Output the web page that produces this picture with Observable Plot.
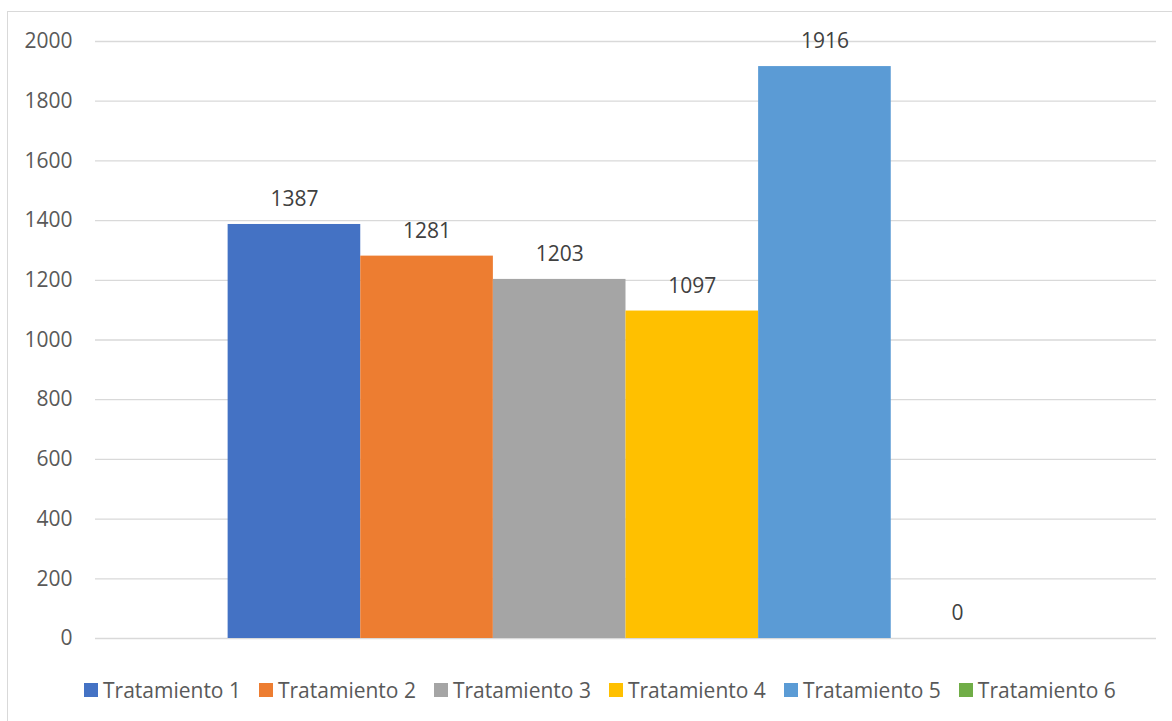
<!DOCTYPE html>
<html>
<head>
<meta charset="utf-8">
<script src="https://cdn.jsdelivr.net/npm/d3@7"></script>
<script src="https://cdn.jsdelivr.net/npm/@observablehq/plot@0.6"></script>
<style>
  html, body { margin: 0; padding: 0; background: #fff; }
  #wrap { position: relative; width: 1172px; height: 721px; overflow: hidden; font-family: "Open Sans", sans-serif; }
  #border { position: absolute; left: 7px; top: 11px; width: 1180px; height: 730px; border: 1px solid #d9d9d9; box-sizing: border-box; }
  #chart { position: absolute; left: 0; top: 0; }
  #legend { position: absolute; left: 84px; top: 676px; height: 28px; display: flex; align-items: center; gap: 18px; font-size: 21px; color: #595959; white-space: nowrap; }
  .item { display: flex; align-items: center; }
  .sw { width: 14px; height: 14px; margin-right: 5px; }
</style>
</head>
<body>
<div id="wrap">
  <div id="border"></div>
  <div id="chart"></div>
  <div id="legend"></div>
</div>
<script>
const series = ["Tratamiento 1", "Tratamiento 2", "Tratamiento 3", "Tratamiento 4", "Tratamiento 5", "Tratamiento 6"];
const values = [1387, 1281, 1203, 1097, 1916, 0];
const colors = ["#4472C4", "#ED7D31", "#A5A5A5", "#FFC000", "#5B9BD5", "#70AD47"];
const yTicks = [0, 200, 400, 600, 800, 1000, 1200, 1400, 1600, 1800, 2000];

const data = series.map((s, i) => ({ series: s, value: values[i] }));

const chart = Plot.plot({
  width: 1172,
  height: 660,
  marginTop: 41,
  marginBottom: 22,
  marginLeft: 95,
  marginRight: 16,
  style: { fontFamily: "Open Sans, sans-serif", fontSize: "21px", color: "#595959", background: "transparent" },
  x: { domain: series, paddingInner: 0, paddingOuter: 1, round: false, axis: null },
  y: { domain: [0, 2000], ticks: yTicks, tickSize: 0, tickPadding: 23, label: null, tickFormat: d => String(d) },
  color: { domain: series, range: colors },
  marks: [
    Plot.ruleY(yTicks, { stroke: "#d9d9d9", strokeWidth: 1.3 }),
    Plot.barY(data, { x: "series", y: "value", fill: "series" }),
    Plot.text(data, { x: "series", y: "value", text: d => String(d.value), dy: -25, fill: "#404040", fontSize: 21 })
  ]
});
document.getElementById("chart").appendChild(chart);

const legend = document.getElementById("legend");
series.forEach((s, i) => {
  const it = document.createElement("div");
  it.className = "item";
  const sw = document.createElement("span");
  sw.className = "sw";
  sw.style.background = colors[i];
  const t = document.createElement("span");
  t.textContent = s;
  it.appendChild(sw);
  it.appendChild(t);
  legend.appendChild(it);
});
</script>
</body>
</html>
